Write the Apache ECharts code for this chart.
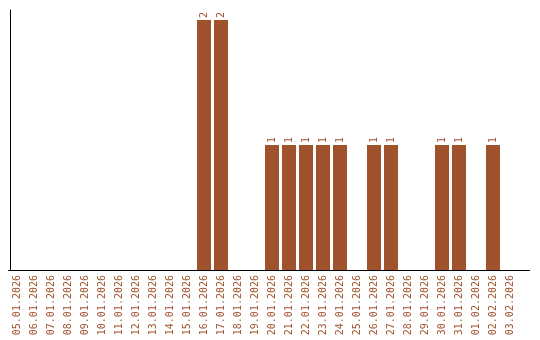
<!DOCTYPE html>
<html><head><meta charset="utf-8">
<script src="https://cdn.jsdelivr.net/npm/echarts@6/dist/echarts.min.js"></script>
<style>html,body{margin:0;padding:0;background:#fff}#c{width:540px;height:340px}</style>
</head><body><div id="c"></div>
<script>
var categories = ["05.01.2026","06.01.2026","07.01.2026","08.01.2026","09.01.2026","10.01.2026","11.01.2026","12.01.2026","13.01.2026","14.01.2026","15.01.2026","16.01.2026","17.01.2026","18.01.2026","19.01.2026","20.01.2026","21.01.2026","22.01.2026","23.01.2026","24.01.2026","25.01.2026","26.01.2026","27.01.2026","28.01.2026","29.01.2026","30.01.2026","31.01.2026","01.02.2026","02.02.2026","03.02.2026"];
var values = [0,0,0,0,0,0,0,0,0,0,0,2,2,0,0,1,1,1,1,1,0,1,1,0,0,1,1,0,1,0];
var chart = echarts.init(document.getElementById('c'));
chart.setOption({
  animation: false,
  grid: {left: 8.5, top: 10, width: 510, height: 260, containLabel: false},
  xAxis: {
    type: 'category', data: categories,
    axisLine: {lineStyle: {color: '#000', width: 1}},
    axisTick: {show: false},
    axisLabel: {rotate: 90, interval: 0, margin: 5, color: '#a0522d', fontFamily: 'DejaVu Sans Mono', fontSize: 10}
  },
  yAxis: {
    type: 'value', min: 0, max: 2.08, offset: -1.5,
    axisLine: {show: true, lineStyle: {color: '#000', width: 1}},
    axisTick: {show: false}, axisLabel: {show: false}, splitLine: {show: false}
  },
  graphic: [{type: 'line', shape: {x1: 518.5, y1: 270.5, x2: 530, y2: 270.5}, style: {stroke: '#000', lineWidth: 1}}],
  series: [{
    type: 'bar', data: values, barWidth: 14, itemStyle: {color: '#a0522d'},
    label: {
      show: true, position: 'top', rotate: 90, align: 'left', verticalAlign: 'middle', distance: 2,
      color: '#a0522d', fontFamily: 'DejaVu Sans Mono', fontSize: 10,
      formatter: function(p){ return p.value ? String(p.value) : ''; }
    }
  }]
});
</script></body></html>
